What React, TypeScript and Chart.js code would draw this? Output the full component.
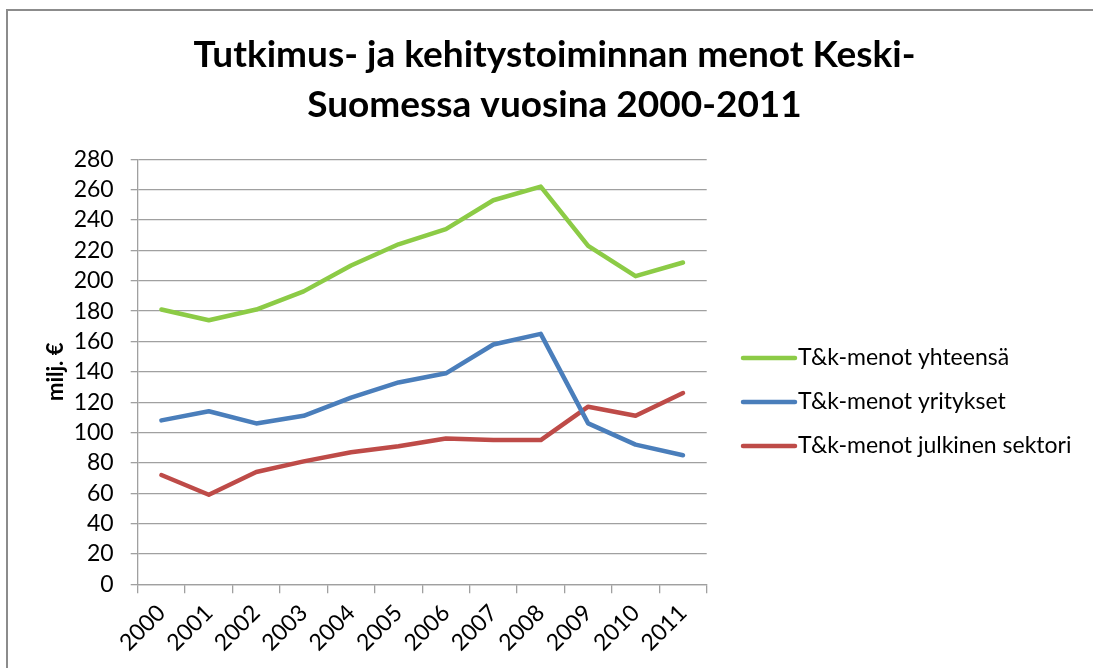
import React, { useEffect, useRef } from "react";
import { Chart, registerables } from "chart.js";

Chart.register(...registerables);

const years = ["2000", "2001", "2002", "2003", "2004", "2005", "2006", "2007", "2008", "2009", "2010", "2011"];
const totalSpending = [181, 174, 181, 193, 210, 224, 234, 253, 262, 223, 203, 212];
const businessSpending = [108, 114, 106, 111, 123, 133, 139, 158, 165, 106, 92, 85];
const publicSpending = [72, 59, 74, 81, 87, 91, 96, 95, 95, 117, 111, 126];
const seriesLabels = ["T&k-menot yhteensä", "T&k-menot yritykset", "T&k-menot julkinen sektori"];
const seriesColors = ["#8ccb46", "#4a7ebb", "#be4b48"];
const titleLines = ["Tutkimus- ja kehitystoiminnan menot Keski-", "Suomessa vuosina 2000-2011"];
const yAxisTitle = "milj. €";

const FONT = "Lato, 'Open Sans', sans-serif";

const legendPlugin = {
  id: "sideLegend",
  afterDraw(chart: any) {
    const ctx = chart.ctx;
    const x1 = 743;
    const x2 = 795;
    const ys = [358, 402, 446];
    ctx.save();
    chart.data.datasets.forEach((ds: any, i: number) => {
      const y = ys[i];
      ctx.strokeStyle = ds.borderColor;
      ctx.lineWidth = 4.5;
      ctx.lineCap = "round";
      ctx.beginPath();
      ctx.moveTo(x1, y);
      ctx.lineTo(x2, y);
      ctx.stroke();
      ctx.fillStyle = "#000";
      ctx.font = `23px ${FONT}`;
      ctx.textBaseline = "middle";
      ctx.textAlign = "left";
      ctx.fillText(ds.label, x2 + 3, y);
    });
    ctx.restore();
  },
};

export default function App() {
  const ref = useRef<HTMLCanvasElement | null>(null);

  useEffect(() => {
    if (!ref.current) return;
    const chart = new Chart(ref.current, {
      type: "line",
      data: {
        labels: years,
        datasets: [
          { label: seriesLabels[0], data: totalSpending, borderColor: seriesColors[0], backgroundColor: seriesColors[0] },
          { label: seriesLabels[1], data: businessSpending, borderColor: seriesColors[1], backgroundColor: seriesColors[1] },
          { label: seriesLabels[2], data: publicSpending, borderColor: seriesColors[2], backgroundColor: seriesColors[2] },
        ].map((d) => ({ ...d, yAxisID: "y", borderWidth: 4.5, pointRadius: 0, pointHoverRadius: 0, tension: 0, borderJoinStyle: "round" as const, borderCapStyle: "round" as const })),
      },
      options: {
        responsive: false,
        animation: false,
        events: [],
        layout: { padding: { left: 16, right: 0, top: 0, bottom: 0 } },
        plugins: {
          legend: { display: false },
          tooltip: { enabled: false },
          title: {
            display: true,
            text: titleLines,
            color: "#000",
            font: { family: FONT, size: 37, weight: "bold", lineHeight: 50 / 37 },
            padding: { top: 30, bottom: 29.3 },
          },
        },
        scales: {
          x: {
            type: "category",
            offset: true,
            afterFit: (s: any) => { s.height = 668 - 584.3; },
            grid: { offset: true, drawOnChartArea: false, drawTicks: true, tickLength: 9, color: "#a0a0a0", lineWidth: 1.3 },
            border: { display: true, color: "#a0a0a0", width: 1.3 },
            ticks: { color: "#000", font: { family: FONT, size: 23 }, minRotation: 45, maxRotation: 45, padding: 6, autoSkip: false },
          },
          y: {
            position: "left",
            min: 0,
            max: 280,
            afterFit: (s: any) => { s.width = 121.7; },
            grid: { color: "#a0a0a0", lineWidth: 1.3, tickLength: 7, drawTicks: true },
            border: { display: true, color: "#a0a0a0", width: 1.3 },
            ticks: { stepSize: 20, autoSkip: false, maxTicksLimit: 20, color: "#000", font: { family: FONT, size: 23, lineHeight: 1 }, padding: 17 },
            title: { display: true, text: yAxisTitle, color: "#000", font: { family: FONT, size: 22, weight: "bold" }, padding: { top: 27, bottom: 0 } },
          },
          legendSpace: {
            type: "linear",
            position: "right",
            display: true,
            afterFit: (s: any) => { s.width = 1093 - 706.7; },
            grid: { display: false, drawOnChartArea: false, drawTicks: false },
            border: { display: false },
            ticks: { display: false },
          },
        },
      },
      plugins: [legendPlugin],
    });
    return () => chart.destroy();
  }, []);

  return (
    <div style={{ position: "fixed", left: 0, top: 0, width: 1093, height: 668, overflow: "hidden", background: "#fff" }}>
      <div style={{ position: "absolute", left: 6, top: 9, width: 1200, height: 800, border: "2px solid #8c8c8c" }} />
      <canvas ref={ref} width={1093} height={668} style={{ position: "absolute", left: 0, top: 0, width: 1093, height: 668 }} />
    </div>
  );
}
